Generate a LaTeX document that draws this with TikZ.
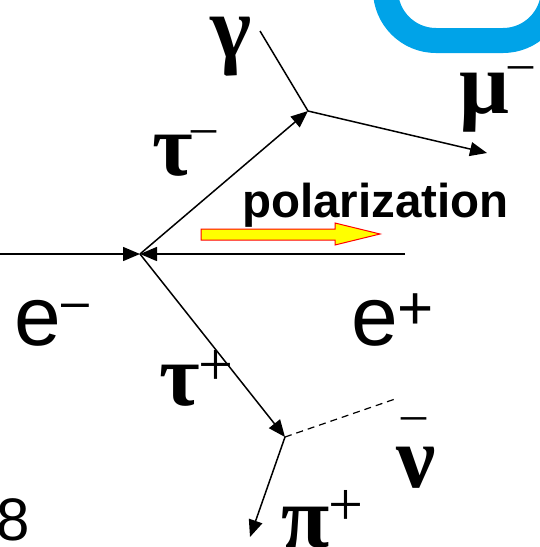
\documentclass[tikz,border=0pt]{standalone}
\usepackage{fontspec}
\setmainfont{Liberation Sans}
\newfontfamily\grfont{Liberation Serif}
\usetikzlibrary{arrows.meta}
\definecolor{ringblue}{RGB}{0,163,232}
\definecolor{polred}{RGB}{255,0,0}
\definecolor{polyellow}{RGB}{255,255,0}
\tikzset{
  line/.style={line width=1.5pt},
  arr/.style={line width=1.5pt,-{Triangle[length=17pt,width=14pt]}},
  dsh/.style={line width=1.2pt,dash pattern=on 7pt off 5pt},
  big/.style={inner sep=0pt,anchor=base west,font=\fontsize{84}{84}\selectfont},
  grk/.style={inner sep=0pt,anchor=base west,font=\grfont\bfseries\fontsize{88}{88}\selectfont},
}
\newcommand{\supm}[1]{\raisebox{#1}{\fontsize{50}{50}\selectfont\mdseries –}}
\newcommand{\supp}[1]{\raisebox{#1}{\fontsize{62}{62}\selectfont\mdseries +}}
\begin{document}
\begin{tikzpicture}[x=1pt,y=-1pt]
\useasboundingbox (0,0) rectangle (540,547);
\begin{scope}
\clip (0,0) rectangle (540,547);
\draw[ringblue,line width=25pt] (385.5,-30) -- (385.5,-10) arc[start angle=180,end angle=90,radius=50.5] -- (503,40.5) arc[start angle=90,end angle=0,radius=50.5] -- (553.5,-30);
\end{scope}
% vertices
\coordinate (L) at (0,254);
\coordinate (R) at (405,254);
\coordinate (V) at (140,254);
\coordinate (A) at (308,111);
\coordinate (G) at (260,31);
\coordinate (M) at (487,153);
\coordinate (B) at (285,437);
\coordinate (N) at (398,398);
\coordinate (P) at (250,537);
\draw[arr] (L) -- (V);
\draw[arr] (R) -- (V);
\draw[arr] (V) -- (A);
\draw[line] (G) -- (A);
\draw[arr] (A) -- (M);
\draw[arr] (V) -- (B);
\draw[dsh] (B) -- (N);
\draw[arr] (B) -- (P);
% polarization arrow
\draw[polred,fill=polyellow,line width=1pt] (201,229) -- (335,229) -- (335,223) -- (380,234) -- (335,245) -- (335,240) -- (201,240) -- cycle;
\node[inner sep=0pt,anchor=base west,font=\bfseries\fontsize{47.5}{47.5}\selectfont] (pol) at (242,217) {polarization};
% labels
\node[big] (em) at (14,345) {e\kern1pt\supm{27pt}};
\node[big] (ep) at (351,345) {e\kern0pt\supp{16pt}};
\node[grk] (taum) at (152,175) {τ\kern-1pt\supm{32pt}};
\node[grk] (taup) at (159,405) {τ\kern-1pt\supp{20pt}};
\node[grk] (gam) at (210,57) {γ};
\node[grk] (mum) at (459,113) {μ\kern-1pt\supm{34pt}};
\node[grk] (nub) at (396,487) {\rlap{\kern5pt\raisebox{57pt}{\fontsize{50}{50}\selectfont\mdseries –}}ν};
\node[grk] (pip) at (281,547) {π\kern-1pt\supp{22pt}};
\node[inner sep=0pt,anchor=base west,font=\fontsize{60}{60}\selectfont] (pg) at (-4,540) {8};
\end{tikzpicture}
\end{document}
